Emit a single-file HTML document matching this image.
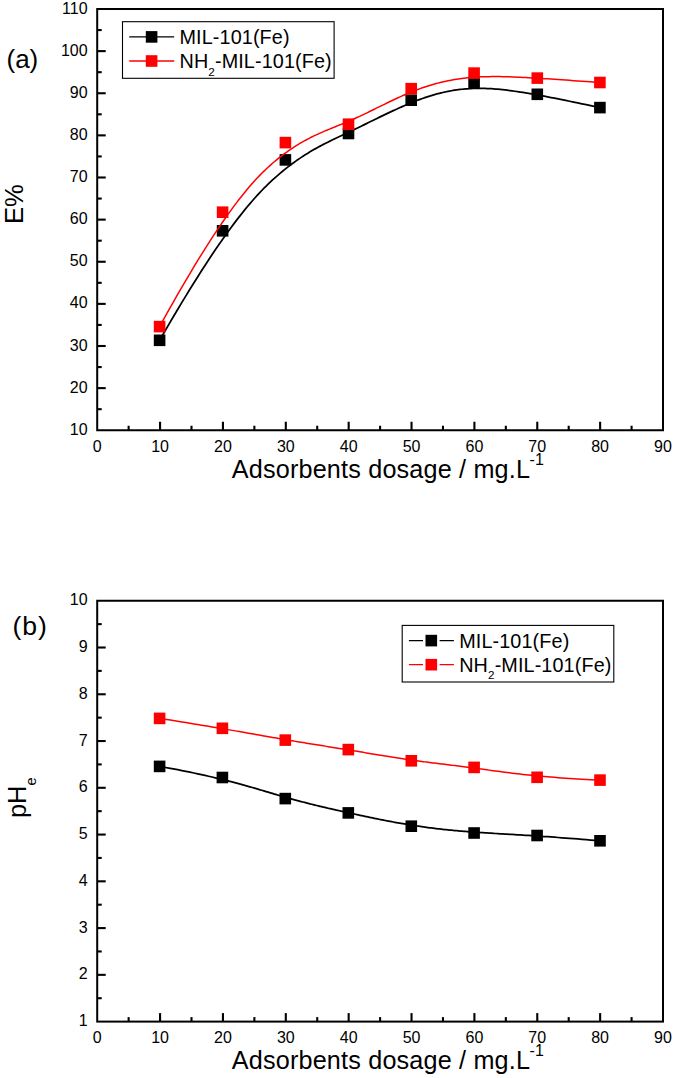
<!DOCTYPE html>
<html><head><meta charset="utf-8"><title>Figure</title>
<style>
html,body{margin:0;padding:0;background:#fff;}
svg{display:block;}
text{font-family:"Liberation Sans",sans-serif;fill:#000;}
.tk{font-size:16px;}
.ttl{font-size:25.2px;letter-spacing:0.18px;}
.yl{font-size:25.5px;}
.pn{font-size:26px;}
.lg{font-size:19.8px;letter-spacing:0.12px;}
</style></head>
<body>
<svg width="675" height="1078" viewBox="0 0 675 1078">
<rect width="675" height="1078" fill="#fff"/>
<path d="M159.60,340.30 L164.29,332.19 L168.86,324.35 L173.32,316.77 L177.66,309.47 L181.90,302.42 L186.03,295.62 L190.05,289.07 L193.97,282.75 L197.80,276.67 L201.52,270.82 L205.15,265.20 L208.69,259.79 L212.14,254.59 L215.50,249.59 L218.78,244.80 L221.98,240.20 L225.09,235.78 L228.13,231.55 L231.10,227.50 L233.99,223.62 L236.81,219.90 L239.57,216.34 L242.26,212.93 L244.89,209.67 L247.46,206.56 L249.98,203.58 L252.44,200.73 L254.84,198.00 L257.20,195.39 L259.51,192.90 L261.78,190.51 L264.01,188.23 L266.19,186.04 L268.34,183.93 L270.46,181.92 L272.54,179.98 L274.60,178.11 L276.63,176.31 L278.63,174.58 L280.61,172.89 L282.57,171.26 L284.52,169.68 L286.44,168.14 L288.35,166.65 L290.24,165.20 L292.11,163.80 L293.97,162.44 L295.81,161.12 L297.63,159.84 L299.44,158.60 L301.23,157.39 L303.01,156.22 L304.78,155.08 L306.53,153.97 L308.27,152.90 L310.00,151.85 L311.71,150.84 L313.42,149.85 L315.11,148.88 L316.80,147.94 L318.47,147.02 L320.14,146.13 L321.79,145.25 L323.44,144.39 L325.08,143.55 L326.71,142.72 L328.34,141.91 L329.96,141.12 L331.57,140.33 L333.18,139.55 L334.78,138.78 L336.38,138.02 L337.97,137.27 L339.56,136.52 L341.15,135.78 L342.74,135.03 L344.32,134.29 L345.90,133.55 L347.49,132.80 L349.07,132.05 L350.65,131.30 L352.23,130.54 L353.81,129.78 L355.38,129.01 L356.96,128.25 L358.54,127.48 L360.12,126.70 L361.70,125.93 L363.28,125.16 L364.86,124.38 L366.44,123.60 L368.01,122.83 L369.59,122.05 L371.17,121.28 L372.75,120.50 L374.32,119.73 L375.90,118.95 L377.48,118.18 L379.06,117.41 L380.63,116.65 L382.21,115.88 L383.79,115.12 L385.37,114.37 L386.94,113.61 L388.52,112.87 L390.10,112.12 L391.67,111.38 L393.25,110.65 L394.83,109.92 L396.41,109.20 L397.98,108.49 L399.56,107.78 L401.14,107.08 L402.71,106.38 L404.29,105.70 L405.87,105.02 L407.45,104.35 L409.02,103.69 L410.60,103.04 L412.18,102.40 L413.76,101.77 L415.34,101.15 L416.92,100.54 L418.50,99.94 L420.09,99.35 L421.67,98.77 L423.27,98.21 L424.86,97.66 L426.46,97.12 L428.07,96.59 L429.68,96.08 L431.29,95.58 L432.92,95.09 L434.54,94.62 L436.18,94.16 L437.83,93.72 L439.48,93.29 L441.14,92.88 L442.82,92.48 L444.50,92.10 L446.19,91.74 L447.89,91.39 L449.61,91.06 L451.34,90.74 L453.07,90.45 L454.83,90.17 L456.59,89.91 L458.37,89.67 L460.17,89.45 L461.98,89.25 L463.80,89.06 L465.64,88.90 L467.50,88.76 L469.38,88.64 L471.27,88.53 L473.18,88.45 L475.11,88.39 L477.05,88.36 L479.02,88.34 L481.01,88.35 L483.02,88.38 L485.05,88.43 L487.11,88.51 L489.20,88.61 L491.33,88.73 L493.48,88.87 L495.68,89.04 L497.91,89.23 L500.18,89.45 L502.50,89.69 L504.87,89.95 L507.28,90.24 L509.74,90.55 L512.26,90.89 L514.84,91.25 L517.47,91.63 L520.17,92.04 L522.93,92.48 L525.75,92.94 L528.65,93.42 L531.61,93.93 L534.65,94.47 L537.76,95.03 L540.96,95.62 L544.23,96.23 L547.59,96.87 L551.03,97.54 L554.56,98.23 L558.18,98.94 L561.89,99.69 L565.70,100.46 L569.61,101.26 L573.61,102.08 L577.72,102.93 L581.94,103.81 L586.26,104.72 L590.69,105.65 L595.24,106.61 L599.90,107.60" fill="none" stroke="#000" stroke-width="1.75"/>
<rect x="153.80" y="334.50" width="11.6" height="11.6" fill="#000"/>
<rect x="216.80" y="225.00" width="11.6" height="11.6" fill="#000"/>
<rect x="279.60" y="154.10" width="11.6" height="11.6" fill="#000"/>
<rect x="342.70" y="127.70" width="11.6" height="11.6" fill="#000"/>
<rect x="405.40" y="94.40" width="11.6" height="11.6" fill="#000"/>
<rect x="468.30" y="76.60" width="11.6" height="11.6" fill="#000"/>
<rect x="531.50" y="88.50" width="11.6" height="11.6" fill="#000"/>
<rect x="594.10" y="101.80" width="11.6" height="11.6" fill="#000"/>
<path d="M159.60,326.60 L164.29,318.13 L168.86,309.95 L173.32,302.06 L177.66,294.45 L181.90,287.12 L186.03,280.06 L190.05,273.27 L193.97,266.73 L197.80,260.45 L201.52,254.41 L205.15,248.61 L208.69,243.04 L212.14,237.70 L215.50,232.58 L218.78,227.68 L221.98,222.98 L225.09,218.49 L228.13,214.19 L231.10,210.08 L233.99,206.16 L236.81,202.41 L239.57,198.83 L242.26,195.42 L244.89,192.17 L247.46,189.07 L249.98,186.11 L252.44,183.30 L254.84,180.62 L257.20,178.07 L259.51,175.63 L261.78,173.32 L264.01,171.11 L266.19,169.00 L268.34,167.00 L270.46,165.08 L272.54,163.24 L274.60,161.49 L276.63,159.80 L278.63,158.19 L280.61,156.63 L282.57,155.12 L284.52,153.67 L286.44,152.27 L288.35,150.91 L290.24,149.61 L292.11,148.35 L293.97,147.13 L295.81,145.96 L297.63,144.83 L299.44,143.73 L301.23,142.68 L303.01,141.66 L304.78,140.67 L306.53,139.72 L308.27,138.80 L310.00,137.91 L311.71,137.04 L313.42,136.20 L315.11,135.39 L316.80,134.60 L318.47,133.83 L320.14,133.08 L321.79,132.35 L323.44,131.63 L325.08,130.93 L326.71,130.25 L328.34,129.57 L329.96,128.90 L331.57,128.25 L333.18,127.59 L334.78,126.95 L336.38,126.30 L337.97,125.66 L339.56,125.02 L341.15,124.38 L342.74,123.73 L344.32,123.08 L345.90,122.42 L347.49,121.75 L349.07,121.08 L350.65,120.39 L352.23,119.70 L353.81,118.99 L355.38,118.27 L356.96,117.55 L358.54,116.82 L360.12,116.08 L361.70,115.34 L363.28,114.59 L364.86,113.83 L366.44,113.07 L368.01,112.31 L369.59,111.54 L371.17,110.77 L372.75,110.00 L374.32,109.22 L375.90,108.45 L377.48,107.67 L379.06,106.90 L380.63,106.12 L382.21,105.35 L383.79,104.57 L385.37,103.80 L386.94,103.04 L388.52,102.27 L390.10,101.51 L391.67,100.76 L393.25,100.01 L394.83,99.26 L396.41,98.52 L397.98,97.79 L399.56,97.07 L401.14,96.36 L402.71,95.65 L404.29,94.95 L405.87,94.27 L407.45,93.59 L409.02,92.93 L410.60,92.27 L412.18,91.63 L413.76,91.01 L415.34,90.39 L416.92,89.79 L418.50,89.20 L420.09,88.62 L421.67,88.06 L423.27,87.50 L424.86,86.97 L426.46,86.44 L428.07,85.93 L429.68,85.43 L431.29,84.94 L432.92,84.47 L434.54,84.01 L436.18,83.56 L437.83,83.13 L439.48,82.71 L441.14,82.30 L442.82,81.91 L444.50,81.53 L446.19,81.17 L447.89,80.81 L449.61,80.48 L451.34,80.15 L453.07,79.84 L454.83,79.54 L456.59,79.26 L458.37,78.99 L460.17,78.74 L461.98,78.50 L463.80,78.27 L465.64,78.06 L467.50,77.86 L469.38,77.68 L471.27,77.51 L473.18,77.35 L475.11,77.21 L477.05,77.08 L479.02,76.97 L481.01,76.87 L483.02,76.79 L485.05,76.72 L487.11,76.67 L489.20,76.63 L491.33,76.60 L493.48,76.59 L495.68,76.59 L497.91,76.60 L500.18,76.62 L502.50,76.66 L504.87,76.71 L507.28,76.78 L509.74,76.85 L512.26,76.94 L514.84,77.04 L517.47,77.15 L520.17,77.27 L522.93,77.41 L525.75,77.55 L528.65,77.71 L531.61,77.88 L534.65,78.05 L537.76,78.24 L540.96,78.44 L544.23,78.65 L547.59,78.86 L551.03,79.09 L554.56,79.33 L558.18,79.57 L561.89,79.83 L565.70,80.09 L569.61,80.37 L573.61,80.65 L577.72,80.94 L581.94,81.23 L586.26,81.54 L590.69,81.85 L595.24,82.17 L599.90,82.50" fill="none" stroke="#f00" stroke-width="1.5"/>
<rect x="153.80" y="320.80" width="11.6" height="11.6" fill="#f00"/>
<rect x="216.80" y="206.40" width="11.6" height="11.6" fill="#f00"/>
<rect x="279.60" y="136.80" width="11.6" height="11.6" fill="#f00"/>
<rect x="342.70" y="118.40" width="11.6" height="11.6" fill="#f00"/>
<rect x="405.40" y="82.90" width="11.6" height="11.6" fill="#f00"/>
<rect x="468.30" y="67.30" width="11.6" height="11.6" fill="#f00"/>
<rect x="531.50" y="72.30" width="11.6" height="11.6" fill="#f00"/>
<rect x="594.10" y="76.70" width="11.6" height="11.6" fill="#f00"/>
<rect x="97.2" y="9.0" width="565.8" height="421.25" fill="none" stroke="#000" stroke-width="2.0"/>
<text x="87.6" y="434.85" text-anchor="end" class="tk">10</text>
<line x1="97.2" y1="409.19" x2="101.7" y2="409.19" stroke="#000" stroke-width="2.1"/>
<line x1="97.2" y1="388.12" x2="105.7" y2="388.12" stroke="#000" stroke-width="2.1"/>
<text x="87.6" y="392.73" text-anchor="end" class="tk">20</text>
<line x1="97.2" y1="367.06" x2="101.7" y2="367.06" stroke="#000" stroke-width="2.1"/>
<line x1="97.2" y1="346.00" x2="105.7" y2="346.00" stroke="#000" stroke-width="2.1"/>
<text x="87.6" y="350.60" text-anchor="end" class="tk">30</text>
<line x1="97.2" y1="324.94" x2="101.7" y2="324.94" stroke="#000" stroke-width="2.1"/>
<line x1="97.2" y1="303.88" x2="105.7" y2="303.88" stroke="#000" stroke-width="2.1"/>
<text x="87.6" y="308.48" text-anchor="end" class="tk">40</text>
<line x1="97.2" y1="282.81" x2="101.7" y2="282.81" stroke="#000" stroke-width="2.1"/>
<line x1="97.2" y1="261.75" x2="105.7" y2="261.75" stroke="#000" stroke-width="2.1"/>
<text x="87.6" y="266.35" text-anchor="end" class="tk">50</text>
<line x1="97.2" y1="240.69" x2="101.7" y2="240.69" stroke="#000" stroke-width="2.1"/>
<line x1="97.2" y1="219.62" x2="105.7" y2="219.62" stroke="#000" stroke-width="2.1"/>
<text x="87.6" y="224.22" text-anchor="end" class="tk">60</text>
<line x1="97.2" y1="198.56" x2="101.7" y2="198.56" stroke="#000" stroke-width="2.1"/>
<line x1="97.2" y1="177.50" x2="105.7" y2="177.50" stroke="#000" stroke-width="2.1"/>
<text x="87.6" y="182.10" text-anchor="end" class="tk">70</text>
<line x1="97.2" y1="156.44" x2="101.7" y2="156.44" stroke="#000" stroke-width="2.1"/>
<line x1="97.2" y1="135.38" x2="105.7" y2="135.38" stroke="#000" stroke-width="2.1"/>
<text x="87.6" y="139.97" text-anchor="end" class="tk">80</text>
<line x1="97.2" y1="114.31" x2="101.7" y2="114.31" stroke="#000" stroke-width="2.1"/>
<line x1="97.2" y1="93.25" x2="105.7" y2="93.25" stroke="#000" stroke-width="2.1"/>
<text x="87.6" y="97.85" text-anchor="end" class="tk">90</text>
<line x1="97.2" y1="72.19" x2="101.7" y2="72.19" stroke="#000" stroke-width="2.1"/>
<line x1="97.2" y1="51.12" x2="105.7" y2="51.12" stroke="#000" stroke-width="2.1"/>
<text x="87.6" y="55.73" text-anchor="end" class="tk">100</text>
<line x1="97.2" y1="30.06" x2="101.7" y2="30.06" stroke="#000" stroke-width="2.1"/>
<text x="87.6" y="13.60" text-anchor="end" class="tk">110</text>
<text x="97.20" y="451.65" text-anchor="middle" class="tk">0</text>
<line x1="128.63" y1="430.25" x2="128.63" y2="425.75" stroke="#000" stroke-width="2.1"/>
<line x1="160.07" y1="430.25" x2="160.07" y2="421.75" stroke="#000" stroke-width="2.1"/>
<text x="160.07" y="451.65" text-anchor="middle" class="tk">10</text>
<line x1="191.50" y1="430.25" x2="191.50" y2="425.75" stroke="#000" stroke-width="2.1"/>
<line x1="222.93" y1="430.25" x2="222.93" y2="421.75" stroke="#000" stroke-width="2.1"/>
<text x="222.93" y="451.65" text-anchor="middle" class="tk">20</text>
<line x1="254.37" y1="430.25" x2="254.37" y2="425.75" stroke="#000" stroke-width="2.1"/>
<line x1="285.80" y1="430.25" x2="285.80" y2="421.75" stroke="#000" stroke-width="2.1"/>
<text x="285.80" y="451.65" text-anchor="middle" class="tk">30</text>
<line x1="317.23" y1="430.25" x2="317.23" y2="425.75" stroke="#000" stroke-width="2.1"/>
<line x1="348.67" y1="430.25" x2="348.67" y2="421.75" stroke="#000" stroke-width="2.1"/>
<text x="348.67" y="451.65" text-anchor="middle" class="tk">40</text>
<line x1="380.10" y1="430.25" x2="380.10" y2="425.75" stroke="#000" stroke-width="2.1"/>
<line x1="411.53" y1="430.25" x2="411.53" y2="421.75" stroke="#000" stroke-width="2.1"/>
<text x="411.53" y="451.65" text-anchor="middle" class="tk">50</text>
<line x1="442.97" y1="430.25" x2="442.97" y2="425.75" stroke="#000" stroke-width="2.1"/>
<line x1="474.40" y1="430.25" x2="474.40" y2="421.75" stroke="#000" stroke-width="2.1"/>
<text x="474.40" y="451.65" text-anchor="middle" class="tk">60</text>
<line x1="505.83" y1="430.25" x2="505.83" y2="425.75" stroke="#000" stroke-width="2.1"/>
<line x1="537.27" y1="430.25" x2="537.27" y2="421.75" stroke="#000" stroke-width="2.1"/>
<text x="537.27" y="451.65" text-anchor="middle" class="tk">70</text>
<line x1="568.70" y1="430.25" x2="568.70" y2="425.75" stroke="#000" stroke-width="2.1"/>
<line x1="600.13" y1="430.25" x2="600.13" y2="421.75" stroke="#000" stroke-width="2.1"/>
<text x="600.13" y="451.65" text-anchor="middle" class="tk">80</text>
<line x1="631.57" y1="430.25" x2="631.57" y2="425.75" stroke="#000" stroke-width="2.1"/>
<text x="663.00" y="451.65" text-anchor="middle" class="tk">90</text>
<text x="231.8" y="478.05" class="ttl">Adsorbents dosage / mg.L<tspan dy="-13.5" dx="-0.6" font-size="16" letter-spacing="0">-1</tspan></text>
<text transform="translate(22.8,224.1) rotate(-90)" class="yl">E%</text>
<text x="6.5" y="68" class="pn">(a)</text>
<rect x="122.5" y="21.7" width="211.6" height="56.6" fill="#fff" stroke="#000" stroke-width="1.1"/>
<line x1="129.2" y1="36.9" x2="174.2" y2="36.9" stroke="#000" stroke-width="1.3"/>
<rect x="145.79999999999998" y="31.099999999999998" width="11.6" height="11.6" fill="#000"/>
<text x="179.5" y="43.9" class="lg">MIL-101(Fe)</text>
<line x1="129.2" y1="61.0" x2="174.2" y2="61.0" stroke="#f00" stroke-width="1.3"/>
<rect x="145.79999999999998" y="55.2" width="11.6" height="11.6" fill="#f00"/>
<text x="179.5" y="68.0" class="lg">NH<tspan dy="7.7" font-size="11.7">2</tspan><tspan dy="-7.7">-MIL-101(Fe)</tspan></text>
<path d="M159.60,766.40 L164.27,767.24 L168.83,768.07 L173.28,768.90 L177.61,769.73 L181.84,770.55 L185.95,771.37 L189.97,772.19 L193.88,773.01 L197.70,773.82 L201.41,774.63 L205.04,775.43 L208.57,776.23 L212.01,777.02 L215.37,777.81 L218.64,778.59 L221.84,779.37 L224.95,780.14 L227.99,780.91 L230.95,781.67 L233.84,782.42 L236.66,783.17 L239.42,783.91 L242.11,784.64 L244.74,785.37 L247.31,786.09 L249.82,786.80 L252.28,787.50 L254.69,788.20 L257.05,788.88 L259.36,789.56 L261.63,790.23 L263.86,790.89 L266.05,791.54 L268.20,792.18 L270.31,792.82 L272.40,793.44 L274.45,794.05 L276.48,794.65 L278.49,795.24 L280.47,795.82 L282.43,796.39 L284.38,796.95 L286.30,797.50 L288.21,798.04 L290.10,798.57 L291.97,799.09 L293.83,799.60 L295.66,800.10 L297.49,800.59 L299.30,801.07 L301.09,801.55 L302.87,802.01 L304.63,802.47 L306.39,802.92 L308.13,803.37 L309.85,803.81 L311.57,804.24 L313.27,804.66 L314.97,805.08 L316.65,805.49 L318.32,805.90 L319.99,806.30 L321.64,806.69 L323.29,807.08 L324.93,807.47 L326.56,807.85 L328.19,808.23 L329.81,808.60 L331.42,808.97 L333.03,809.34 L334.63,809.70 L336.23,810.06 L337.83,810.42 L339.42,810.77 L341.01,811.13 L342.60,811.48 L344.18,811.83 L345.77,812.18 L347.35,812.53 L348.93,812.87 L350.52,813.22 L352.10,813.56 L353.68,813.91 L355.26,814.25 L356.85,814.59 L358.43,814.94 L360.01,815.28 L361.60,815.62 L363.18,815.95 L364.76,816.29 L366.34,816.62 L367.93,816.96 L369.51,817.29 L371.09,817.62 L372.67,817.95 L374.26,818.27 L375.84,818.59 L377.42,818.92 L379.00,819.24 L380.59,819.55 L382.17,819.87 L383.75,820.18 L385.33,820.49 L386.92,820.79 L388.50,821.10 L390.08,821.40 L391.66,821.70 L393.24,821.99 L394.82,822.28 L396.41,822.57 L397.99,822.86 L399.57,823.14 L401.15,823.42 L402.73,823.70 L404.31,823.97 L405.89,824.23 L407.47,824.50 L409.05,824.76 L410.63,825.02 L412.21,825.27 L413.80,825.52 L415.38,825.76 L416.96,826.00 L418.54,826.24 L420.13,826.47 L421.72,826.70 L423.31,826.92 L424.91,827.14 L426.51,827.36 L428.11,827.57 L429.72,827.78 L431.34,827.99 L432.96,828.19 L434.59,828.39 L436.23,828.59 L437.87,828.78 L439.52,828.98 L441.18,829.16 L442.85,829.35 L444.53,829.53 L446.22,829.71 L447.92,829.88 L449.64,830.05 L451.36,830.22 L453.10,830.39 L454.85,830.55 L456.61,830.71 L458.39,830.87 L460.18,831.03 L461.98,831.18 L463.81,831.34 L465.64,831.48 L467.50,831.63 L469.37,831.78 L471.25,831.92 L473.16,832.06 L475.08,832.20 L477.03,832.33 L478.99,832.47 L480.97,832.60 L482.98,832.73 L485.00,832.86 L487.06,832.99 L489.15,833.11 L491.26,833.24 L493.41,833.37 L495.60,833.50 L497.83,833.63 L500.10,833.77 L502.41,833.90 L504.78,834.04 L507.19,834.18 L509.65,834.33 L512.16,834.48 L514.74,834.63 L517.37,834.79 L520.07,834.95 L522.82,835.12 L525.65,835.30 L528.54,835.48 L531.51,835.67 L534.55,835.87 L537.67,836.08 L540.86,836.29 L544.14,836.51 L547.50,836.74 L550.95,836.99 L554.49,837.24 L558.12,837.50 L561.84,837.77 L565.66,838.06 L569.58,838.35 L573.60,838.66 L577.73,838.99 L581.96,839.32 L586.30,839.67 L590.75,840.03 L595.32,840.41 L600.00,840.80" fill="none" stroke="#000" stroke-width="1.75"/>
<rect x="153.80" y="760.60" width="11.6" height="11.6" fill="#000"/>
<rect x="216.60" y="771.70" width="11.6" height="11.6" fill="#000"/>
<rect x="279.50" y="792.80" width="11.6" height="11.6" fill="#000"/>
<rect x="342.50" y="807.10" width="11.6" height="11.6" fill="#000"/>
<rect x="405.50" y="820.40" width="11.6" height="11.6" fill="#000"/>
<rect x="468.30" y="827.20" width="11.6" height="11.6" fill="#000"/>
<rect x="531.30" y="829.70" width="11.6" height="11.6" fill="#000"/>
<rect x="594.20" y="835.00" width="11.6" height="11.6" fill="#000"/>
<path d="M159.60,718.40 L164.27,719.14 L168.83,719.86 L173.28,720.57 L177.61,721.27 L181.84,721.95 L185.95,722.61 L189.97,723.27 L193.88,723.91 L197.70,724.53 L201.41,725.15 L205.04,725.75 L208.57,726.34 L212.01,726.91 L215.37,727.48 L218.64,728.03 L221.84,728.57 L224.95,729.10 L227.99,729.62 L230.95,730.13 L233.84,730.63 L236.66,731.12 L239.42,731.60 L242.11,732.06 L244.74,732.52 L247.31,732.97 L249.82,733.42 L252.28,733.85 L254.69,734.27 L257.05,734.69 L259.36,735.10 L261.63,735.50 L263.86,735.89 L266.05,736.28 L268.20,736.66 L270.31,737.03 L272.40,737.40 L274.45,737.76 L276.48,738.11 L278.49,738.46 L280.47,738.80 L282.43,739.14 L284.38,739.47 L286.30,739.80 L288.21,740.12 L290.10,740.44 L291.97,740.76 L293.83,741.07 L295.66,741.38 L297.49,741.68 L299.30,741.98 L301.09,742.27 L302.87,742.56 L304.63,742.85 L306.39,743.14 L308.13,743.42 L309.85,743.70 L311.57,743.98 L313.27,744.25 L314.97,744.53 L316.65,744.80 L318.32,745.06 L319.99,745.33 L321.64,745.59 L323.29,745.86 L324.93,746.12 L326.56,746.38 L328.19,746.64 L329.81,746.90 L331.42,747.16 L333.03,747.41 L334.63,747.67 L336.23,747.93 L337.83,748.18 L339.42,748.44 L341.01,748.70 L342.60,748.95 L344.18,749.21 L345.77,749.47 L347.35,749.73 L348.93,749.99 L350.52,750.25 L352.10,750.51 L353.68,750.77 L355.26,751.04 L356.85,751.30 L358.43,751.57 L360.01,751.83 L361.60,752.10 L363.18,752.36 L364.76,752.63 L366.34,752.89 L367.93,753.16 L369.51,753.42 L371.09,753.69 L372.67,753.95 L374.26,754.22 L375.84,754.48 L377.42,754.75 L379.00,755.01 L380.59,755.27 L382.17,755.53 L383.75,755.79 L385.33,756.05 L386.92,756.31 L388.50,756.56 L390.08,756.82 L391.66,757.07 L393.24,757.32 L394.82,757.57 L396.41,757.82 L397.99,758.06 L399.57,758.31 L401.15,758.55 L402.73,758.79 L404.31,759.02 L405.89,759.26 L407.47,759.49 L409.05,759.72 L410.63,759.94 L412.21,760.17 L413.80,760.39 L415.38,760.61 L416.96,760.82 L418.54,761.03 L420.13,761.25 L421.72,761.46 L423.31,761.66 L424.91,761.87 L426.51,762.08 L428.11,762.28 L429.72,762.48 L431.34,762.69 L432.96,762.89 L434.59,763.09 L436.23,763.30 L437.87,763.50 L439.52,763.70 L441.18,763.91 L442.85,764.11 L444.53,764.32 L446.22,764.53 L447.92,764.74 L449.64,764.95 L451.36,765.16 L453.10,765.38 L454.85,765.59 L456.61,765.81 L458.39,766.04 L460.18,766.26 L461.98,766.49 L463.81,766.72 L465.64,766.96 L467.50,767.20 L469.37,767.44 L471.25,767.69 L473.16,767.94 L475.08,768.19 L477.03,768.46 L478.99,768.72 L480.97,768.99 L482.98,769.27 L485.00,769.55 L487.06,769.83 L489.15,770.12 L491.26,770.41 L493.41,770.71 L495.60,771.01 L497.83,771.31 L500.10,771.61 L502.41,771.92 L504.78,772.23 L507.19,772.53 L509.65,772.84 L512.16,773.15 L514.74,773.46 L517.37,773.77 L520.07,774.08 L522.82,774.39 L525.65,774.70 L528.54,775.00 L531.51,775.31 L534.55,775.61 L537.67,775.91 L540.86,776.21 L544.14,776.50 L547.50,776.79 L550.95,777.08 L554.49,777.36 L558.12,777.64 L561.84,777.91 L565.66,778.18 L569.58,778.44 L573.60,778.70 L577.73,778.95 L581.96,779.19 L586.30,779.43 L590.75,779.66 L595.32,779.88 L600.00,780.10" fill="none" stroke="#f00" stroke-width="1.5"/>
<rect x="153.80" y="712.60" width="11.6" height="11.6" fill="#f00"/>
<rect x="216.60" y="722.50" width="11.6" height="11.6" fill="#f00"/>
<rect x="279.50" y="734.30" width="11.6" height="11.6" fill="#f00"/>
<rect x="342.50" y="743.80" width="11.6" height="11.6" fill="#f00"/>
<rect x="405.50" y="755.00" width="11.6" height="11.6" fill="#f00"/>
<rect x="468.30" y="761.60" width="11.6" height="11.6" fill="#f00"/>
<rect x="531.30" y="771.50" width="11.6" height="11.6" fill="#f00"/>
<rect x="594.20" y="774.30" width="11.6" height="11.6" fill="#f00"/>
<rect x="97.2" y="600.75" width="565.8" height="420.85" fill="none" stroke="#000" stroke-width="2.0"/>
<text x="87.6" y="1026.20" text-anchor="end" class="tk">1</text>
<line x1="97.2" y1="998.22" x2="101.7" y2="998.22" stroke="#000" stroke-width="2.1"/>
<line x1="97.2" y1="974.84" x2="105.7" y2="974.84" stroke="#000" stroke-width="2.1"/>
<text x="87.6" y="979.44" text-anchor="end" class="tk">2</text>
<line x1="97.2" y1="951.46" x2="101.7" y2="951.46" stroke="#000" stroke-width="2.1"/>
<line x1="97.2" y1="928.08" x2="105.7" y2="928.08" stroke="#000" stroke-width="2.1"/>
<text x="87.6" y="932.68" text-anchor="end" class="tk">3</text>
<line x1="97.2" y1="904.70" x2="101.7" y2="904.70" stroke="#000" stroke-width="2.1"/>
<line x1="97.2" y1="881.32" x2="105.7" y2="881.32" stroke="#000" stroke-width="2.1"/>
<text x="87.6" y="885.92" text-anchor="end" class="tk">4</text>
<line x1="97.2" y1="857.94" x2="101.7" y2="857.94" stroke="#000" stroke-width="2.1"/>
<line x1="97.2" y1="834.56" x2="105.7" y2="834.56" stroke="#000" stroke-width="2.1"/>
<text x="87.6" y="839.16" text-anchor="end" class="tk">5</text>
<line x1="97.2" y1="811.17" x2="101.7" y2="811.17" stroke="#000" stroke-width="2.1"/>
<line x1="97.2" y1="787.79" x2="105.7" y2="787.79" stroke="#000" stroke-width="2.1"/>
<text x="87.6" y="792.39" text-anchor="end" class="tk">6</text>
<line x1="97.2" y1="764.41" x2="101.7" y2="764.41" stroke="#000" stroke-width="2.1"/>
<line x1="97.2" y1="741.03" x2="105.7" y2="741.03" stroke="#000" stroke-width="2.1"/>
<text x="87.6" y="745.63" text-anchor="end" class="tk">7</text>
<line x1="97.2" y1="717.65" x2="101.7" y2="717.65" stroke="#000" stroke-width="2.1"/>
<line x1="97.2" y1="694.27" x2="105.7" y2="694.27" stroke="#000" stroke-width="2.1"/>
<text x="87.6" y="698.87" text-anchor="end" class="tk">8</text>
<line x1="97.2" y1="670.89" x2="101.7" y2="670.89" stroke="#000" stroke-width="2.1"/>
<line x1="97.2" y1="647.51" x2="105.7" y2="647.51" stroke="#000" stroke-width="2.1"/>
<text x="87.6" y="652.11" text-anchor="end" class="tk">9</text>
<line x1="97.2" y1="624.13" x2="101.7" y2="624.13" stroke="#000" stroke-width="2.1"/>
<text x="87.6" y="605.35" text-anchor="end" class="tk">10</text>
<text x="97.20" y="1043.00" text-anchor="middle" class="tk">0</text>
<line x1="128.63" y1="1021.6" x2="128.63" y2="1017.1" stroke="#000" stroke-width="2.1"/>
<line x1="160.07" y1="1021.6" x2="160.07" y2="1013.1" stroke="#000" stroke-width="2.1"/>
<text x="160.07" y="1043.00" text-anchor="middle" class="tk">10</text>
<line x1="191.50" y1="1021.6" x2="191.50" y2="1017.1" stroke="#000" stroke-width="2.1"/>
<line x1="222.93" y1="1021.6" x2="222.93" y2="1013.1" stroke="#000" stroke-width="2.1"/>
<text x="222.93" y="1043.00" text-anchor="middle" class="tk">20</text>
<line x1="254.37" y1="1021.6" x2="254.37" y2="1017.1" stroke="#000" stroke-width="2.1"/>
<line x1="285.80" y1="1021.6" x2="285.80" y2="1013.1" stroke="#000" stroke-width="2.1"/>
<text x="285.80" y="1043.00" text-anchor="middle" class="tk">30</text>
<line x1="317.23" y1="1021.6" x2="317.23" y2="1017.1" stroke="#000" stroke-width="2.1"/>
<line x1="348.67" y1="1021.6" x2="348.67" y2="1013.1" stroke="#000" stroke-width="2.1"/>
<text x="348.67" y="1043.00" text-anchor="middle" class="tk">40</text>
<line x1="380.10" y1="1021.6" x2="380.10" y2="1017.1" stroke="#000" stroke-width="2.1"/>
<line x1="411.53" y1="1021.6" x2="411.53" y2="1013.1" stroke="#000" stroke-width="2.1"/>
<text x="411.53" y="1043.00" text-anchor="middle" class="tk">50</text>
<line x1="442.97" y1="1021.6" x2="442.97" y2="1017.1" stroke="#000" stroke-width="2.1"/>
<line x1="474.40" y1="1021.6" x2="474.40" y2="1013.1" stroke="#000" stroke-width="2.1"/>
<text x="474.40" y="1043.00" text-anchor="middle" class="tk">60</text>
<line x1="505.83" y1="1021.6" x2="505.83" y2="1017.1" stroke="#000" stroke-width="2.1"/>
<line x1="537.27" y1="1021.6" x2="537.27" y2="1013.1" stroke="#000" stroke-width="2.1"/>
<text x="537.27" y="1043.00" text-anchor="middle" class="tk">70</text>
<line x1="568.70" y1="1021.6" x2="568.70" y2="1017.1" stroke="#000" stroke-width="2.1"/>
<line x1="600.13" y1="1021.6" x2="600.13" y2="1013.1" stroke="#000" stroke-width="2.1"/>
<text x="600.13" y="1043.00" text-anchor="middle" class="tk">80</text>
<line x1="631.57" y1="1021.6" x2="631.57" y2="1017.1" stroke="#000" stroke-width="2.1"/>
<text x="663.00" y="1043.00" text-anchor="middle" class="tk">90</text>
<text x="231.8" y="1069.40" class="ttl">Adsorbents dosage / mg.L<tspan dy="-13.5" dx="-0.6" font-size="16" letter-spacing="0">-1</tspan></text>
<text transform="translate(26.4,818.1) rotate(-90)" class="yl">pH<tspan dy="9.5" font-size="14.5">e</tspan></text>
<text x="12.6" y="634.8" class="pn" style="font-size:26.6px;letter-spacing:0.9px">(b)</text>
<rect x="402.2" y="625.4" width="211.6" height="56.6" fill="#fff" stroke="#000" stroke-width="1.1"/>
<line x1="408.9" y1="640.6" x2="453.9" y2="640.6" stroke="#000" stroke-width="1.3"/>
<rect x="423.0" y="637.6" width="16.6" height="6" fill="#fff"/>
<rect x="425.5" y="634.8000000000001" width="11.6" height="11.6" fill="#000"/>
<text x="459.2" y="647.6" class="lg">MIL-101(Fe)</text>
<line x1="408.9" y1="664.7" x2="453.9" y2="664.7" stroke="#f00" stroke-width="1.3"/>
<rect x="423.0" y="661.7" width="16.6" height="6" fill="#fff"/>
<rect x="425.5" y="658.9000000000001" width="11.6" height="11.6" fill="#f00"/>
<text x="459.2" y="671.7" class="lg">NH<tspan dy="7.7" font-size="11.7">2</tspan><tspan dy="-7.7">-MIL-101(Fe)</tspan></text>
</svg>
</body></html>
